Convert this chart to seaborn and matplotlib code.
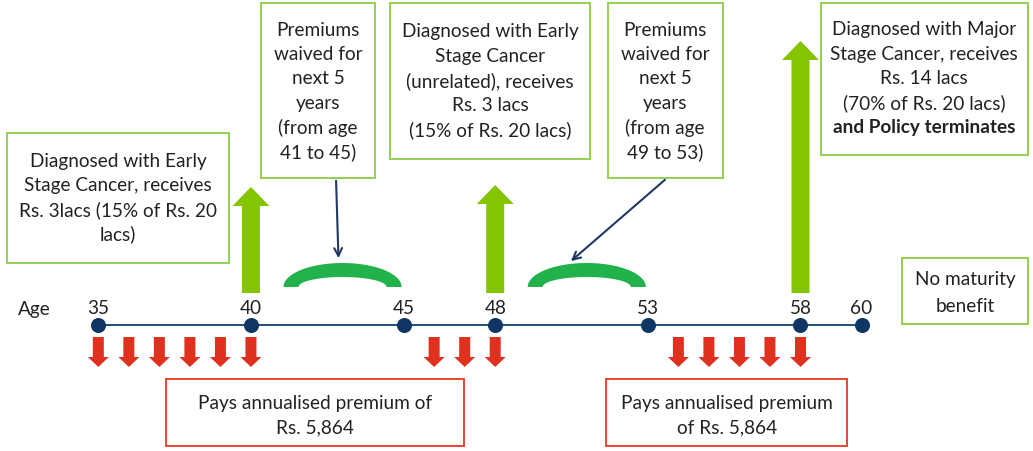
import numpy as np
import matplotlib.pyplot as plt
import seaborn as sns
from matplotlib.patches import Rectangle

# --- data ---
timeline_ages = [35, 40, 45, 48, 53, 58, 60]
premium_ages = [35, 36, 37, 38, 39, 40, 46, 47, 48, 54, 55, 56, 57, 58]
claim_ages = [40, 48, 58]
waiver_start = [41, 49]
waiver_end = [45, 53]

claim1_text = ['Diagnosed with Early', 'Stage Cancer, receives',
               'Rs. 3lacs (15% of Rs. 20', 'lacs)']
waiver1_text = ['Premiums', 'waived for', 'next 5', 'years', '(from age', '41 to 45)']
claim2_text = ['Diagnosed with Early', 'Stage Cancer', '(unrelated), receives',
               'Rs. 3 lacs', '(15% of Rs. 20 lacs)']
waiver2_text = ['Premiums', 'waived for', 'next 5', 'years', '(from age', '49 to 53)']
claim3_text = ['Diagnosed with Major', 'Stage Cancer, receives', 'Rs. 14 lacs',
               '(70% of Rs. 20 lacs)']
claim3_bold = 'and Policy terminates'
maturity_text = ['No maturity', 'benefit']
premium1_text = ['Pays annualised premium of', 'Rs. 5,864']
premium2_text = ['Pays annualised premium', 'of Rs. 5,864']

# --- layout (pixel rows, age columns) ---
PX_PER_YEAR = 30.53
X_LEFT = 31.78
arrow_tops = [187, 185, 41]
LINE_Y = 325
TEXT_C = '#222222'
GREEN_BOX = '#92d050'
RED_BOX = '#e8482f'

sns.set_theme(style='white')
plt.rcParams['font.family'] = ['Lato', 'DejaVu Sans']
FS = 13.7

fig = plt.figure(figsize=(10.33, 4.51), dpi=100)
ax = fig.add_axes([0, 0, 1, 1])
ov = fig.add_axes([0, 0, 1, 1])
ov.patch.set_alpha(0)
for a in (ax, ov):
    a.set_axis_off()
ax.set_xlim(X_LEFT, X_LEFT + 1033 / PX_PER_YEAR)
ax.set_ylim(451, 0)
ov.set_xlim(0, 1033)
ov.set_ylim(451, 0)


def age_px(age):
    return (age - X_LEFT) * PX_PER_YEAR


# timeline
sns.lineplot(x=[timeline_ages[0], timeline_ages[-1]], y=[LINE_Y, LINE_Y],
             color='#1f4e79', lw=1.4, ax=ax)
sns.scatterplot(x=timeline_ages, y=[LINE_Y] * len(timeline_ages), s=100,
                color='#0f3564', edgecolor='#0f3564', ax=ax, zorder=4)
for age in timeline_ages:
    ax.text(age, 309, str(age), ha='center', va='center', fontsize=FS, color=TEXT_C)
ov.text(34, 309, 'Age', ha='center', va='center', fontsize=FS, color=TEXT_C)

# premium payments
for age in premium_ages:
    ax.arrow(age, 337, 0, 30, width=11 / PX_PER_YEAR, head_width=21 / PX_PER_YEAR,
             head_length=10, length_includes_head=True, color='#e0301e', lw=0)

# claim payouts
for age, top in zip(claim_ages, arrow_tops):
    ax.arrow(age, 293, 0, -(293 - top), width=18 / PX_PER_YEAR,
             head_width=37 / PX_PER_YEAR, head_length=19,
             length_includes_head=True, color='#84c500', lw=0)

# waiver brackets (thick band between two half-ellipses)
t = np.linspace(0, np.pi, 120)
for s, e in zip(waiver_start, waiver_end):
    c = (s + e) / 2
    outer = (e - s) / 2 - 2 / PX_PER_YEAR
    inner = outer - 15 / PX_PER_YEAR
    xs = np.concatenate([c + outer * np.cos(t), c + inner * np.cos(t[::-1])])
    ys = np.concatenate([287 - 24 * np.sin(t), 287 - 10 * np.sin(t[::-1])])
    ax.fill(xs, ys, color='#21b24b', lw=0)


def box(x0, y0, x1, y1, color):
    ov.add_patch(Rectangle((x0, y0), x1 - x0, y1 - y0, fill=False, ec=color, lw=1.4))


def lines(xc, y0, texts, step=24.5, bold=None):
    for i, s in enumerate(texts):
        ov.text(xc, y0 + i * step, s, ha='center', va='center', fontsize=FS, color=TEXT_C)
    if bold:
        ov.text(xc, y0 + len(texts) * step, bold, ha='center', va='center',
                fontsize=FS, color=TEXT_C, fontweight='bold')


box(7, 133, 229, 263, GREEN_BOX)
lines(118, 161, claim1_text)
box(261, 3, 375, 178, GREEN_BOX)
lines(318, 30, waiver1_text)
box(390, 3, 590, 159, GREEN_BOX)
lines(490, 32, claim2_text)
box(608, 3, 723, 178, GREEN_BOX)
lines(665, 30, waiver2_text)
box(821, 3, 1028, 155, GREEN_BOX)
lines(924, 30, claim3_text, bold=claim3_bold)
box(902, 258, 1028, 324, GREEN_BOX)
lines(965, 280, maturity_text, step=26)
box(166, 379, 464, 446, RED_BOX)
lines(315, 403, premium1_text)
box(606, 379, 847, 446, RED_BOX)
lines(727, 403, premium2_text)

# pointers from waiver boxes to brackets
arrow_kw = dict(arrowstyle='->', color='#1f3864', lw=1.5, mutation_scale=14)
ov.annotate('', xy=(age_px(43) - 4, 261), xytext=(336, 178), arrowprops=arrow_kw)
ov.annotate('', xy=(age_px(51) - 18, 263), xytext=(667, 178), arrowprops=arrow_kw)

fig.savefig('out.png', dpi=100)
